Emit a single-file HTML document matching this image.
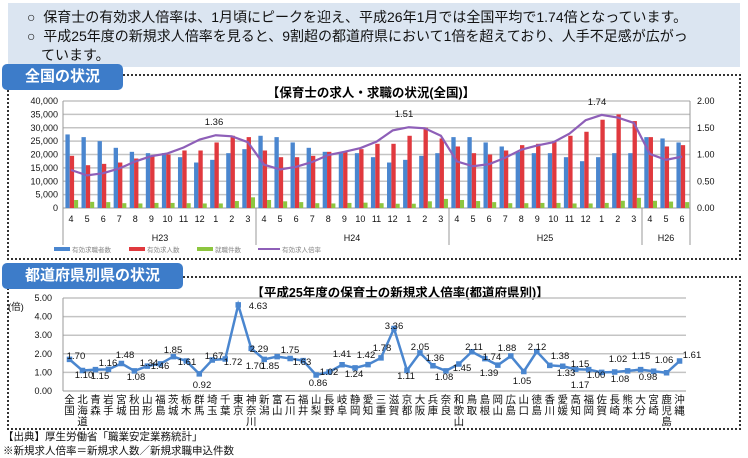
<!DOCTYPE html>
<html><head><meta charset="utf-8"><style>
body{margin:0;width:748px;height:456px;background:#fff;overflow:hidden;position:relative;font-family:"Liberation Sans","Noto Sans CJK JP",sans-serif}
.top{position:absolute;left:8px;top:3px;width:732px;height:64px;background:#dbe5f1}
.tl{position:absolute;font-size:14px;color:#111;white-space:nowrap}
.tab{position:absolute;background:#3d7cc9;color:#fff;font-weight:bold;font-size:15px;border-radius:5px;text-align:center}
.box{position:absolute;border:2px dotted #333}
.foot{position:absolute;left:3px;font-size:10.5px;color:#111;white-space:nowrap}
</style></head><body>
<div class="top"></div>
<div class="tl" style="left:27px;top:7px">○&nbsp; 保育士の有効求人倍率は、1月頃にピークを迎え、平成26年1月では全国平均で1.74倍となっています。</div>
<div class="tl" style="left:27px;top:26px">○&nbsp; 平成25年度の新規求人倍率を見ると、9割超の都道府県において1倍を超えており、人手不足感が広がっ</div>
<div class="tl" style="left:41px;top:45px">ています。</div>
<div class="box" style="left:7px;top:74px;width:730px;height:182px"></div>
<div class="box" style="left:7px;top:276px;width:730px;height:150px"></div>
<div class="tab" style="left:2px;top:64px;width:121px;height:26px;line-height:26px">全国の状況</div>
<div class="tab" style="left:2px;top:263px;width:181px;height:26px;line-height:26px">都道府県別県の状況</div>
<div class="foot" style="top:429px">【出典】厚生労働省「職業安定業務統計」</div>
<div class="foot" style="top:443px">※新規求人倍率＝新規求人数／新規求職申込件数</div>

<svg width="748" height="456" style="position:absolute;left:0;top:0" font-family="Liberation Sans, Noto Sans CJK JP, sans-serif">
<text x="371" y="97" font-size="12.5" font-weight="bold" text-anchor="middle">【保育士の求人・求職の状況(全国)】</text>
<g stroke="#c4c4c4" stroke-width="1.5">
<line x1="63" x2="690" y1="101" y2="101"/><line x1="63" x2="690" y1="114.4" y2="114.4"/><line x1="63" x2="690" y1="127.8" y2="127.8"/><line x1="63" x2="690" y1="141.1" y2="141.1"/><line x1="63" x2="690" y1="154.5" y2="154.5"/><line x1="63" x2="690" y1="167.9" y2="167.9"/><line x1="63" x2="690" y1="181.3" y2="181.3"/><line x1="63" x2="690" y1="194.6" y2="194.6"/>
</g>
<g stroke="#999" stroke-width="1">
<line x1="63" x2="690" y1="208" y2="208"/><line x1="63" x2="63" y1="101" y2="245"/><line x1="690" x2="690" y1="101" y2="245"/>
<line x1="256" x2="256" y1="208" y2="245"/><line x1="449" x2="449" y1="208" y2="245"/><line x1="642" x2="642" y1="208" y2="245"/>
</g>
<g font-size="9" text-anchor="end" fill="#111">
<text x="58" y="104">40,000</text><text x="58" y="117.4">35,000</text><text x="58" y="130.8">30,000</text><text x="58" y="144.1">25,000</text><text x="58" y="157.5">20,000</text><text x="58" y="170.9">15,000</text><text x="58" y="184.3">10,000</text><text x="58" y="197.6">5,000</text><text x="58" y="211">0</text>
</g>
<g font-size="9" fill="#111">
<text x="697" y="104">2.00</text><text x="697" y="130.8">1.50</text><text x="697" y="157.5">1.00</text><text x="697" y="184.3">0.50</text><text x="697" y="211">0.00</text>
</g>
<g transform="translate(63,208) scale(16.08,-2.675)">
<g fill="#4a86cf">
<rect x="0.15" width="0.27" y="0" height="27.5"/><rect x="1.15" width="0.27" y="0" height="26.5"/><rect x="2.15" width="0.27" y="0" height="25"/><rect x="3.15" width="0.27" y="0" height="22.5"/><rect x="4.15" width="0.27" y="0" height="21"/><rect x="5.15" width="0.27" y="0" height="20.5"/><rect x="6.15" width="0.27" y="0" height="20.5"/><rect x="7.15" width="0.27" y="0" height="19"/><rect x="8.15" width="0.27" y="0" height="17"/><rect x="9.15" width="0.27" y="0" height="18"/><rect x="10.15" width="0.27" y="0" height="20.5"/><rect x="11.15" width="0.27" y="0" height="22"/>
<rect x="12.15" width="0.27" y="0" height="27"/><rect x="13.15" width="0.27" y="0" height="26.5"/><rect x="14.15" width="0.27" y="0" height="24.5"/><rect x="15.15" width="0.27" y="0" height="22.5"/><rect x="16.15" width="0.27" y="0" height="21"/><rect x="17.15" width="0.27" y="0" height="20.5"/><rect x="18.15" width="0.27" y="0" height="20.5"/><rect x="19.15" width="0.27" y="0" height="19"/><rect x="20.15" width="0.27" y="0" height="17"/><rect x="21.15" width="0.27" y="0" height="18"/><rect x="22.15" width="0.27" y="0" height="19.5"/><rect x="23.15" width="0.27" y="0" height="20.5"/>
<rect x="24.15" width="0.27" y="0" height="26.5"/><rect x="25.15" width="0.27" y="0" height="26.5"/><rect x="26.15" width="0.27" y="0" height="24.5"/><rect x="27.15" width="0.27" y="0" height="23"/><rect x="28.15" width="0.27" y="0" height="21"/><rect x="29.15" width="0.27" y="0" height="20.5"/><rect x="30.15" width="0.27" y="0" height="20.5"/><rect x="31.15" width="0.27" y="0" height="19"/><rect x="32.15" width="0.27" y="0" height="17.5"/><rect x="33.15" width="0.27" y="0" height="19"/><rect x="34.15" width="0.27" y="0" height="20.5"/><rect x="35.15" width="0.27" y="0" height="20.5"/>
<rect x="36.15" width="0.27" y="0" height="26.5"/><rect x="37.15" width="0.27" y="0" height="26"/><rect x="38.15" width="0.27" y="0" height="24.5"/>
</g>
<g fill="#e0393e">
<rect x="0.42" width="0.27" y="0" height="19.5"/><rect x="1.42" width="0.27" y="0" height="16"/><rect x="2.42" width="0.27" y="0" height="16.5"/><rect x="3.42" width="0.27" y="0" height="17"/><rect x="4.42" width="0.27" y="0" height="18.5"/><rect x="5.42" width="0.27" y="0" height="19.5"/><rect x="6.42" width="0.27" y="0" height="20"/><rect x="7.42" width="0.27" y="0" height="21.5"/><rect x="8.42" width="0.27" y="0" height="21.5"/><rect x="9.42" width="0.27" y="0" height="24.5"/><rect x="10.42" width="0.27" y="0" height="27"/><rect x="11.42" width="0.27" y="0" height="26.5"/>
<rect x="12.42" width="0.27" y="0" height="21.5"/><rect x="13.42" width="0.27" y="0" height="19"/><rect x="14.42" width="0.27" y="0" height="19"/><rect x="15.42" width="0.27" y="0" height="19.5"/><rect x="16.42" width="0.27" y="0" height="21"/><rect x="17.42" width="0.27" y="0" height="21"/><rect x="18.42" width="0.27" y="0" height="22"/><rect x="19.42" width="0.27" y="0" height="24"/><rect x="20.42" width="0.27" y="0" height="24"/><rect x="21.42" width="0.27" y="0" height="27"/><rect x="22.42" width="0.27" y="0" height="30"/><rect x="23.42" width="0.27" y="0" height="26"/>
<rect x="24.42" width="0.27" y="0" height="23"/><rect x="25.42" width="0.27" y="0" height="20.5"/><rect x="26.42" width="0.27" y="0" height="20"/><rect x="27.42" width="0.27" y="0" height="21.5"/><rect x="28.42" width="0.27" y="0" height="23.5"/><rect x="29.42" width="0.27" y="0" height="24"/><rect x="30.42" width="0.27" y="0" height="25"/><rect x="31.42" width="0.27" y="0" height="27"/><rect x="32.42" width="0.27" y="0" height="28.5"/><rect x="33.42" width="0.27" y="0" height="33"/><rect x="34.42" width="0.27" y="0" height="35"/><rect x="35.42" width="0.27" y="0" height="32.5"/>
<rect x="36.42" width="0.27" y="0" height="26.5"/><rect x="37.42" width="0.27" y="0" height="23"/><rect x="38.42" width="0.27" y="0" height="23.5"/>
</g>
<g fill="#8dc63f">
<rect x="0.69" width="0.25" y="0" height="3"/><rect x="1.69" width="0.25" y="0" height="2.3"/><rect x="2.69" width="0.25" y="0" height="2.2"/><rect x="3.69" width="0.25" y="0" height="1.8"/><rect x="4.69" width="0.25" y="0" height="1.7"/><rect x="5.69" width="0.25" y="0" height="1.9"/><rect x="6.69" width="0.25" y="0" height="1.9"/><rect x="7.69" width="0.25" y="0" height="1.8"/><rect x="8.69" width="0.25" y="0" height="1.7"/><rect x="9.69" width="0.25" y="0" height="1.7"/><rect x="10.69" width="0.25" y="0" height="2.6"/><rect x="11.69" width="0.25" y="0" height="4"/>
<rect x="12.69" width="0.25" y="0" height="3"/><rect x="13.69" width="0.25" y="0" height="2.5"/><rect x="14.69" width="0.25" y="0" height="2.2"/><rect x="15.69" width="0.25" y="0" height="1.8"/><rect x="16.69" width="0.25" y="0" height="1.7"/><rect x="17.69" width="0.25" y="0" height="1.9"/><rect x="18.69" width="0.25" y="0" height="2"/><rect x="19.69" width="0.25" y="0" height="1.8"/><rect x="20.69" width="0.25" y="0" height="1.6"/><rect x="21.69" width="0.25" y="0" height="1.6"/><rect x="22.69" width="0.25" y="0" height="2.5"/><rect x="23.69" width="0.25" y="0" height="3.4"/>
<rect x="24.69" width="0.25" y="0" height="3"/><rect x="25.69" width="0.25" y="0" height="2.6"/><rect x="26.69" width="0.25" y="0" height="2.2"/><rect x="27.69" width="0.25" y="0" height="1.8"/><rect x="28.69" width="0.25" y="0" height="1.8"/><rect x="29.69" width="0.25" y="0" height="1.9"/><rect x="30.69" width="0.25" y="0" height="1.9"/><rect x="31.69" width="0.25" y="0" height="1.7"/><rect x="32.69" width="0.25" y="0" height="1.7"/><rect x="33.69" width="0.25" y="0" height="1.9"/><rect x="34.69" width="0.25" y="0" height="2.7"/><rect x="35.69" width="0.25" y="0" height="3.8"/>
<rect x="36.69" width="0.25" y="0" height="2.7"/><rect x="37.69" width="0.25" y="0" height="2.4"/><rect x="38.69" width="0.25" y="0" height="2.2"/>
</g>
</g>
<g transform="translate(63,208) scale(16.08,-53.5)">
<polyline fill="none" stroke="#8e5fb8" stroke-width="2.2" vector-effect="non-scaling-stroke" points="0.5,.71 1.5,.61 2.5,.65 3.5,.74 4.5,.87 5.5,.97 6.5,1.02 7.5,1.13 8.5,1.28 9.5,1.36 10.5,1.34 11.5,1.23 12.5,.81 13.5,.72 14.5,.77 15.5,.86 16.5,.99 17.5,1.05 18.5,1.12 19.5,1.24 20.5,1.45 21.5,1.51 22.5,1.49 23.5,1.35 24.5,.87 25.5,.78 26.5,.82 27.5,.94 28.5,1.09 29.5,1.17 30.5,1.23 31.5,1.39 32.5,1.64 33.5,1.74 34.5,1.69 35.5,1.59 36.5,1.01 37.5,.9 38.5,.96"/>
</g>
<g font-size="9.5" fill="#111" text-anchor="middle">
<text x="214" y="125">1.36</text><text x="404" y="117">1.51</text><text x="597" y="105">1.74</text>
</g>
<g font-size="9" fill="#111" text-anchor="middle">
<text x="71" y="222">4</text><text x="87.1" y="222">5</text><text x="103.2" y="222">6</text><text x="119.2" y="222">7</text><text x="135.3" y="222">8</text><text x="151.4" y="222">9</text><text x="167.5" y="222">10</text><text x="183.6" y="222">11</text><text x="199.6" y="222">12</text><text x="215.7" y="222">1</text><text x="231.8" y="222">2</text><text x="247.9" y="222">3</text>
<text x="264" y="222">4</text><text x="280" y="222">5</text><text x="296.1" y="222">6</text><text x="312.2" y="222">7</text><text x="328.3" y="222">8</text><text x="344.4" y="222">9</text><text x="360.4" y="222">10</text><text x="376.5" y="222">11</text><text x="392.6" y="222">12</text><text x="408.7" y="222">1</text><text x="424.8" y="222">2</text><text x="440.8" y="222">3</text>
<text x="456.9" y="222">4</text><text x="473" y="222">5</text><text x="489.1" y="222">6</text><text x="505.2" y="222">7</text><text x="521.2" y="222">8</text><text x="537.3" y="222">9</text><text x="553.4" y="222">10</text><text x="569.5" y="222">11</text><text x="585.6" y="222">12</text><text x="601.6" y="222">1</text><text x="617.7" y="222">2</text><text x="633.8" y="222">3</text>
<text x="649.9" y="222">4</text><text x="666" y="222">5</text><text x="682" y="222">6</text>
<text x="160" y="241">H23</text><text x="352" y="241">H24</text><text x="545" y="241">H25</text><text x="666" y="241">H26</text>
</g>
<g font-size="6.5" fill="#888">
<rect x="54" y="247" width="16" height="4" fill="#4a86cf"/><text x="72" y="252">有効求職者数</text>
<rect x="129" y="247" width="16" height="4" fill="#e0393e"/><text x="147" y="252">有効求人数</text>
<rect x="197" y="247" width="16" height="4" fill="#8dc63f"/><text x="215" y="252">就職件数</text>
<line x1="258" x2="280" y1="249" y2="249" stroke="#8e5fb8" stroke-width="2"/><text x="282" y="252">有効求人倍率</text>
</g>

<text x="400" y="297" font-size="12.5" font-weight="bold" text-anchor="middle">【平成25年度の保育士の新規求人倍率(都道府県別)】</text>
<g stroke="#c4c4c4" stroke-width="1.5">
<line x1="63" x2="686" y1="298" y2="298"/><line x1="63" x2="686" y1="316.6" y2="316.6"/><line x1="63" x2="686" y1="335.2" y2="335.2"/><line x1="63" x2="686" y1="353.8" y2="353.8"/><line x1="63" x2="686" y1="372.4" y2="372.4"/>
</g>
<g stroke="#999"><line x1="63" x2="686" y1="391" y2="391"/><line x1="63" x2="63" y1="298" y2="391"/></g>
<g font-size="9" text-anchor="end" fill="#111">
<text x="52" y="301">5.00</text><text x="52" y="319.6">4.00</text><text x="52" y="338.2">3.00</text><text x="52" y="356.8">2.00</text><text x="52" y="375.4">1.00</text><text x="52" y="394">0.00</text>
</g>
<text x="8" y="310" font-size="9.5" fill="#111">(倍)</text>
<g transform="translate(63,391) scale(12.98,-18.6)">
<polyline fill="none" stroke="#4a86cf" stroke-width="2.5" vector-effect="non-scaling-stroke" points="0.5,1.7 1.5,1.1 2.5,1.15 3.5,1.16 4.5,1.48 5.5,1.08 6.5,1.34 7.5,1.46 8.5,1.85 9.5,1.61 10.5,.92 11.5,1.67 12.5,1.72 13.5,4.63 14.5,2.29 15.5,1.7 16.5,1.85 17.5,1.75 18.5,1.63 19.5,.86 20.5,1.02 21.5,1.41 22.5,1.24 23.5,1.42 24.5,1.78 25.5,3.36 26.5,1.11 27.5,2.05 28.5,1.36 29.5,1.08 30.5,1.45 31.5,2.11 32.5,1.74 33.5,1.39 34.5,1.88 35.5,1.05 36.5,2.12 37.5,1.38 38.5,1.33 39.5,1.17 40.5,1.15 41.5,1 42.5,1.02 43.5,1.08 44.5,1.15 45.5,1.06 46.5,.98 47.5,1.61"/>
<path fill="none" stroke="#4a86cf" stroke-width="5.5" stroke-linecap="square" vector-effect="non-scaling-stroke" d="M0.5 1.7h0M1.5 1.1h0M2.5 1.15h0M3.5 1.16h0M4.5 1.48h0M5.5 1.08h0M6.5 1.34h0M7.5 1.46h0M8.5 1.85h0M9.5 1.61h0M10.5 .92h0M11.5 1.67h0M12.5 1.72h0M13.5 4.63h0M14.5 2.29h0M15.5 1.7h0M16.5 1.85h0M17.5 1.75h0M18.5 1.63h0M19.5 .86h0M20.5 1.02h0M21.5 1.41h0M22.5 1.24h0M23.5 1.42h0M24.5 1.78h0M25.5 3.36h0M26.5 1.11h0M27.5 2.05h0M28.5 1.36h0M29.5 1.08h0M30.5 1.45h0M31.5 2.11h0M32.5 1.74h0M33.5 1.39h0M34.5 1.88h0M35.5 1.05h0M36.5 2.12h0M37.5 1.38h0M38.5 1.33h0M39.5 1.17h0M40.5 1.15h0M41.5 1h0M42.5 1.02h0M43.5 1.08h0M44.5 1.15h0M45.5 1.06h0M46.5 .98h0M47.5 1.61h0"/>
</g>
<g font-size="9.5" fill="#111" text-anchor="middle">
<text x="76" y="359">1.70</text><text x="84" y="378">1.10</text><text x="100" y="379">1.15</text><text x="108" y="366">1.16</text><text x="125" y="358">1.48</text><text x="136" y="380">1.08</text><text x="149" y="366">1.34</text><text x="160" y="369">1.46</text><text x="173" y="353">1.85</text><text x="187" y="365">1.61</text><text x="202" y="388">0.92</text><text x="214" y="359">1.67</text><text x="233" y="365">1.72</text><text x="258" y="309">4.63</text><text x="259" y="352">2.29</text><text x="255" y="369">1.70</text><text x="270" y="369">1.85</text><text x="290" y="353">1.75</text><text x="302" y="365">1.63</text><text x="318" y="386">0.86</text><text x="329" y="375">1.02</text><text x="342" y="357">1.41</text><text x="354" y="377">1.24</text><text x="366" y="358">1.42</text><text x="382" y="351">1.78</text><text x="394" y="329">3.36</text><text x="406" y="379">1.11</text><text x="420" y="350">2.05</text><text x="435" y="361">1.36</text><text x="444" y="380">1.08</text><text x="462" y="371">1.45</text><text x="474" y="350">2.11</text><text x="492" y="360">1.74</text><text x="489" y="376">1.39</text><text x="507" y="351">1.88</text><text x="522" y="384">1.05</text><text x="537" y="350">2.12</text><text x="560" y="359">1.38</text><text x="566" y="376">1.33</text><text x="580" y="388">1.17</text><text x="580" y="367">1.15</text><text x="596" y="378">1.00</text><text x="618" y="362">1.02</text><text x="620" y="382">1.08</text><text x="641" y="359">1.15</text><text x="664" y="363">1.06</text><text x="648" y="380">0.98</text><text x="692" y="358">1.61</text>
</g>
<g font-size="10.5" fill="#111" text-anchor="middle">
<text x="69.5" y="403">全<tspan x="69.5" dy="11">国</tspan></text>
<text x="82.5" y="403">北<tspan x="82.5" dy="11">海</tspan><tspan x="82.5" dy="11">道</tspan></text>
<text x="95.5" y="403">青<tspan x="95.5" dy="11">森</tspan></text>
<text x="108.4" y="403">岩<tspan x="108.4" dy="11">手</tspan></text>
<text x="121.4" y="403">宮<tspan x="121.4" dy="11">城</tspan></text>
<text x="134.4" y="403">秋<tspan x="134.4" dy="11">田</tspan></text>
<text x="147.4" y="403">山<tspan x="147.4" dy="11">形</tspan></text>
<text x="160.4" y="403">福<tspan x="160.4" dy="11">島</tspan></text>
<text x="173.3" y="403">茨<tspan x="173.3" dy="11">城</tspan></text>
<text x="186.3" y="403">栃<tspan x="186.3" dy="11">木</tspan></text>
<text x="199.3" y="403">群<tspan x="199.3" dy="11">馬</tspan></text>
<text x="212.3" y="403">埼<tspan x="212.3" dy="11">玉</tspan></text>
<text x="225.3" y="403">千<tspan x="225.3" dy="11">葉</tspan></text>
<text x="238.2" y="403">東<tspan x="238.2" dy="11">京</tspan></text>
<text x="251.2" y="403">神<tspan x="251.2" dy="11">奈</tspan><tspan x="251.2" dy="11">川</tspan></text>
<text x="264.2" y="403">新<tspan x="264.2" dy="11">潟</tspan></text>
<text x="277.2" y="403">富<tspan x="277.2" dy="11">山</tspan></text>
<text x="290.2" y="403">石<tspan x="290.2" dy="11">川</tspan></text>
<text x="303.1" y="403">福<tspan x="303.1" dy="11">井</tspan></text>
<text x="316.1" y="403">山<tspan x="316.1" dy="11">梨</tspan></text>
<text x="329.1" y="403">長<tspan x="329.1" dy="11">野</tspan></text>
<text x="342.1" y="403">岐<tspan x="342.1" dy="11">阜</tspan></text>
<text x="355.1" y="403">静<tspan x="355.1" dy="11">岡</tspan></text>
<text x="368" y="403">愛<tspan x="368" dy="11">知</tspan></text>
<text x="381" y="403">三<tspan x="381" dy="11">重</tspan></text>
<text x="394" y="403">滋<tspan x="394" dy="11">賀</tspan></text>
<text x="407" y="403">京<tspan x="407" dy="11">都</tspan></text>
<text x="420" y="403">大<tspan x="420" dy="11">阪</tspan></text>
<text x="432.9" y="403">兵<tspan x="432.9" dy="11">庫</tspan></text>
<text x="445.9" y="403">奈<tspan x="445.9" dy="11">良</tspan></text>
<text x="458.9" y="403">和<tspan x="458.9" dy="11">歌</tspan><tspan x="458.9" dy="11">山</tspan></text>
<text x="471.9" y="403">鳥<tspan x="471.9" dy="11">取</tspan></text>
<text x="484.9" y="403">島<tspan x="484.9" dy="11">根</tspan></text>
<text x="497.8" y="403">岡<tspan x="497.8" dy="11">山</tspan></text>
<text x="510.8" y="403">広<tspan x="510.8" dy="11">島</tspan></text>
<text x="523.8" y="403">山<tspan x="523.8" dy="11">口</tspan></text>
<text x="536.8" y="403">徳<tspan x="536.8" dy="11">島</tspan></text>
<text x="549.8" y="403">香<tspan x="549.8" dy="11">川</tspan></text>
<text x="562.7" y="403">愛<tspan x="562.7" dy="11">媛</tspan></text>
<text x="575.7" y="403">高<tspan x="575.7" dy="11">知</tspan></text>
<text x="588.7" y="403">福<tspan x="588.7" dy="11">岡</tspan></text>
<text x="601.7" y="403">佐<tspan x="601.7" dy="11">賀</tspan></text>
<text x="614.7" y="403">長<tspan x="614.7" dy="11">崎</tspan></text>
<text x="627.6" y="403">熊<tspan x="627.6" dy="11">本</tspan></text>
<text x="640.6" y="403">大<tspan x="640.6" dy="11">分</tspan></text>
<text x="653.6" y="403">宮<tspan x="653.6" dy="11">崎</tspan></text>
<text x="666.6" y="403">鹿<tspan x="666.6" dy="11">児</tspan><tspan x="666.6" dy="11">島</tspan></text>
<text x="679.5" y="403">沖<tspan x="679.5" dy="11">縄</tspan></text>
</g>
</svg>
</body></html>
